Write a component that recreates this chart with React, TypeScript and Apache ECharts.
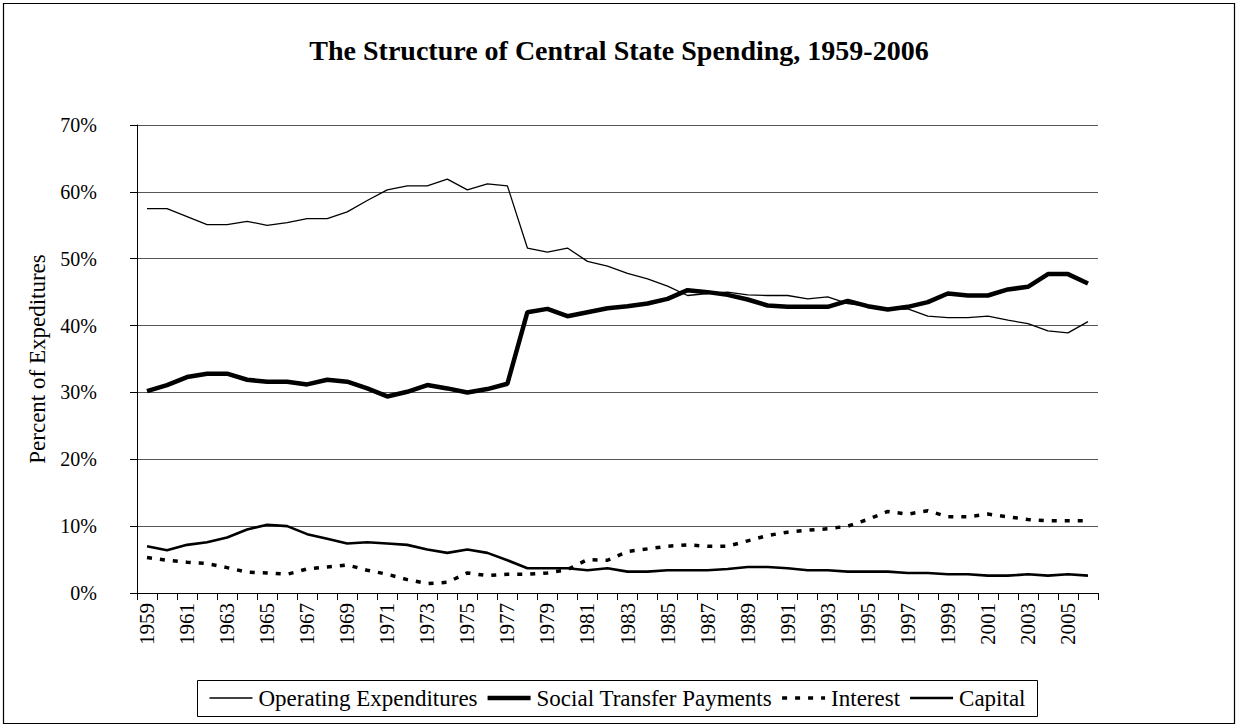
import React, { useEffect, useRef } from "react";
import * as echarts from "echarts";

const years: string[] = [];
for (let y = 1959; y <= 2006; y++) years.push(String(y));

const operating = [
  57.5, 57.5, 56.3, 55.1, 55.1, 55.6, 55.0, 55.4, 56.0, 56.0,
  57.0, 58.7, 60.3, 60.9, 60.9, 61.9, 60.3, 61.2, 60.9, 51.6,
  51.0, 51.6, 49.6, 48.9, 47.8, 47.0, 45.9, 44.5, 44.8, 45.0,
  44.6, 44.5, 44.5, 44.0, 44.3, 43.3, 42.9, 42.4, 42.5, 41.4,
  41.2, 41.2, 41.4, 40.8, 40.3, 39.2, 38.9, 40.6,
];

const social = [
  30.2, 31.1, 32.3, 32.8, 32.8, 31.9, 31.6, 31.6, 31.2, 31.9,
  31.6, 30.6, 29.4, 30.1, 31.1, 30.6, 30.0, 30.5, 31.3, 42.0,
  42.5, 41.4, 42.0, 42.6, 42.9, 43.3, 44.0, 45.3, 45.0, 44.6,
  43.9, 43.0, 42.8, 42.8, 42.8, 43.7, 42.9, 42.4, 42.8, 43.5,
  44.8, 44.5, 44.5, 45.4, 45.8, 47.7, 47.7, 46.3,
];

const interest = [
  5.3, 4.9, 4.6, 4.4, 3.8, 3.1, 3.0, 2.8, 3.6, 3.9,
  4.2, 3.4, 2.8, 2.0, 1.4, 1.6, 3.0, 2.6, 2.8, 2.8,
  3.0, 3.5, 5.0, 4.9, 6.2, 6.6, 7.0, 7.2, 7.0, 7.0,
  7.8, 8.6, 9.1, 9.4, 9.6, 10.0, 11.0, 12.2, 11.8, 12.3,
  11.4, 11.4, 11.8, 11.4, 11.0, 10.8, 10.8, 10.8,
];

const capital = [
  7.0, 6.4, 7.2, 7.6, 8.3, 9.5, 10.2, 10.0, 8.8, 8.1,
  7.4, 7.6, 7.4, 7.2, 6.5, 6.0, 6.5, 6.0, 4.9, 3.7,
  3.7, 3.7, 3.4, 3.7, 3.2, 3.2, 3.4, 3.4, 3.4, 3.6,
  3.9, 3.9, 3.7, 3.4, 3.4, 3.2, 3.2, 3.2, 3.0, 3.0,
  2.8, 2.8, 2.6, 2.6, 2.8, 2.6, 2.8, 2.6,
];

const seriesNames = ["Operating Expenditures", "Social Transfer Payments", "Interest", "Capital"];
const seriesData = [operating, social, interest, capital];
const lineWidths = [1.3, 4.5, 3.5, 2.6];
const lineDashes: (number[] | null)[] = [null, null, [5, 8], null];

const FONT = "'Liberation Serif', 'Times New Roman', serif";
const LEGEND_FONT_SIZE = 23;

function measure(text: string, size: number): number {
  const c = document.createElement("canvas").getContext("2d");
  if (!c) return text.length * size * 0.45;
  c.font = `${size}px 'Liberation Serif', 'Times New Roman', serif`;
  return c.measureText(text).width;
}

function buildLegend(width: number) {
  const lineLen = 43;
  const iconGap = 6;
  const itemGap = 10;
  const pad = 12;
  const cy = 698;
  const textW = seriesNames.map((n) => measure(n, LEGEND_FONT_SIZE));
  const total = pad * 2 + seriesNames.length * (lineLen + iconGap) + textW.reduce((a, b) => a + b, 0) + itemGap * (seriesNames.length - 1);
  const x0 = Math.round((width - total) / 2) - 1.5;
  const els: any[] = [
    {
      type: "rect",
      shape: { x: x0, y: 680.5, width: Math.round(total), height: 36 },
      style: { fill: "#fff", stroke: "#000", lineWidth: 1 },
      silent: true,
      z: 50,
    },
  ];
  let x = x0 + pad;
  seriesNames.forEach((n, i) => {
    const st: any = { stroke: "#000", lineWidth: lineWidths[i] };
    if (lineDashes[i]) st.lineDash = lineDashes[i];
    els.push({ type: "line", shape: { x1: x, y1: cy, x2: x + lineLen, y2: cy }, style: st, silent: true, z: 51 });
    x += lineLen + iconGap;
    els.push({
      type: "text",
      x,
      y: cy,
      style: { text: n, fontFamily: FONT, fontSize: LEGEND_FONT_SIZE, fill: "#000", verticalAlign: "middle", align: "left" },
      silent: true,
      z: 51,
    });
    x += textW[i] + itemGap;
  });
  return els;
}

export default function App() {
  const ref = useRef<HTMLDivElement>(null);
  useEffect(() => {
    if (!ref.current) return;
    const chart = echarts.init(ref.current, undefined, { renderer: "svg" });
    chart.setOption({
      animation: false,
      backgroundColor: "#ffffff",
      title: {
        text: "The Structure of Central State Spending, 1959-2006",
        left: "center",
        top: 31,
        textStyle: { fontFamily: FONT, fontSize: 28, fontWeight: "bold", color: "#000" },
      },
      graphic: [
        {
          type: "rect",
          shape: { x: 3.5, y: 3.5, width: 1231, height: 720 },
          style: { fill: "none", stroke: "#000", lineWidth: 1.2 },
          silent: true,
          z: 100,
        },
        ...buildLegend(1238),
      ],
      grid: { left: 137, right: 140, top: 125, bottom: 134, containLabel: false },
      xAxis: {
        type: "category",
        data: years,
        boundaryGap: true,
        axisLine: { lineStyle: { color: "#000", width: 1 } },
        axisTick: { show: true, interval: 0, length: 7, lineStyle: { color: "#000" } },
        axisLabel: {
          interval: 1,
          rotate: 90,
          fontFamily: FONT,
          fontSize: 21,
          color: "#000",
          margin: 10,
        },
      },
      yAxis: {
        type: "value",
        min: 0,
        max: 70,
        interval: 10,
        name: "Percent of Expeditures",
        nameLocation: "middle",
        nameGap: 68,
        nameTextStyle: { fontFamily: FONT, fontSize: 23, color: "#000" },
        axisLine: { show: true, lineStyle: { color: "#000", width: 1 } },
        axisTick: { show: true, length: 7, inside: false, lineStyle: { color: "#000" } },
        axisLabel: {
          fontFamily: FONT,
          fontSize: 20,
          color: "#000",
          margin: 40,
          formatter: (v: number) => v + "%",
        },
        splitLine: { show: true, lineStyle: { color: "#555", width: 1 } },
      },
      series: seriesNames.map((n, i) => ({
        name: n,
        type: "line",
        data: seriesData[i],
        showSymbol: false,
        symbol: "none",
        lineStyle: { color: "#000", width: lineWidths[i], type: lineDashes[i] || "solid" },
        itemStyle: { color: "#000" },
      })),
    });
    return () => chart.dispose();
  }, []);
  return (
    <div
      ref={ref}
      style={{ position: "fixed", left: 0, top: 0, width: 1238, height: 727, background: "#fff" }}
    />
  );
}
